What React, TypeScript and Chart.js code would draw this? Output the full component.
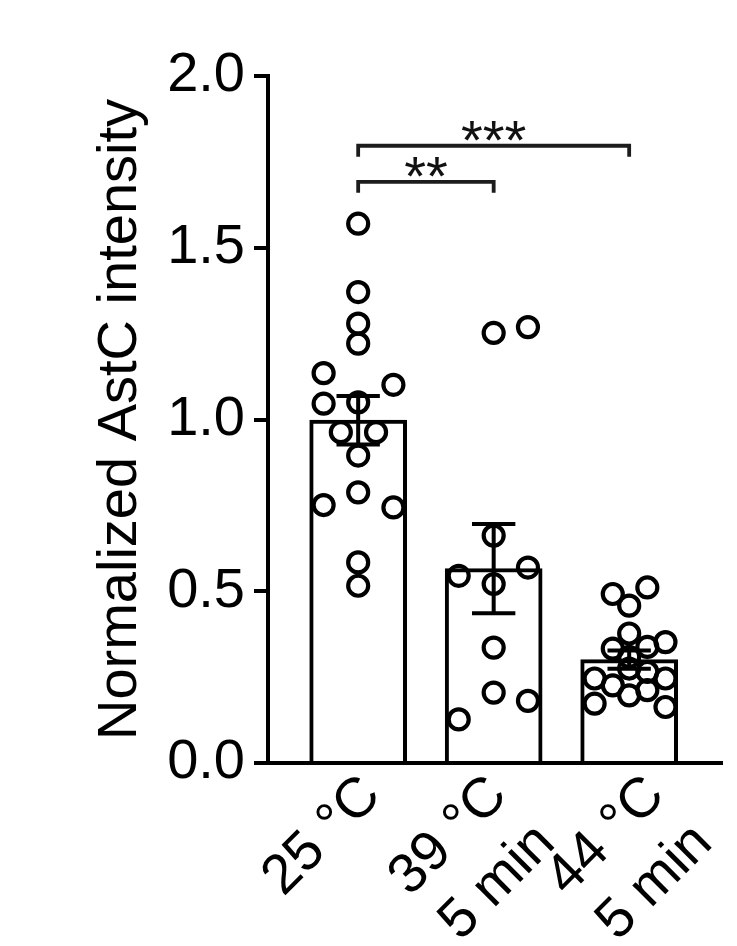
import React, { useEffect, useRef } from 'react';
import { Chart, registerables } from 'chart.js';

Chart.register(...registerables);

// ---- data ----
const categories: string[][] = [['25 °C'], ['39 °C', '5 min'], ['44 °C', '5 min']];
// where each category label sits along the x axis (group index + small shift)
const labelPositions = [0.102, 1.036, 2.197];
const barMeans = [0.998, 0.566, 0.301];
const semValues = [0.0705, 0.13, 0.0265];

const g1Values = [1.570, 1.371, 1.279, 1.221, 1.135, 1.101, 1.046, 1.050, 0.963, 0.963, 0.895, 0.788, 0.751, 0.744, 0.584, 0.516];
const g1Jitter = [0, 0, 0, 0, -0.255, 0.26, -0.255, 0, -0.128, 0.132, 0, 0, -0.255, 0.26, 0, 0];

const g2Values = [1.252, 1.269, 0.662, 0.545, 0.569, 0.521, 0.336, 0.205, 0.181, 0.127];
const g2Jitter = [0, 0.253, 0, -0.258, 0.253, 0, 0, 0, 0.253, -0.258];

const g3Values = [0.492, 0.511, 0.458, 0.377, 0.352, 0.333, 0.338, 0.309, 0.275, 0.265, 0.246, 0.246, 0.226, 0.212, 0.197, 0.173, 0.163];
const g3Jitter = [-0.121, 0.134, 0, 0, 0.268, -0.121, 0.134, 0, 0, 0.134, -0.255, 0.268, -0.121, 0.134, 0, -0.255, 0.268];

const yTicks = [0, 0.5, 1.0, 1.5, 2.0];

const bracketFrom = [0, 0];
const bracketTo = [1, 2];
const bracketY = [1.692, 1.797];
const bracketLabels = ['**', '***'];
const bracketDrop = 0.032;

const FONT = "'Liberation Sans', Arial, Helvetica, sans-serif";

export default function App() {
  const ref = useRef<HTMLCanvasElement>(null);

  useEffect(() => {
    if (!ref.current) return;
    const groups: [number[], number[]][] = [
      [g1Values, g1Jitter],
      [g2Values, g2Jitter],
      [g3Values, g3Jitter],
    ];

    const pointDatasets = groups.map(([vals, jit], gi) => ({
      type: 'scatter' as const,
      data: vals.map((v, k) => ({ x: gi + jit[k], y: v })),
      pointStyle: 'circle',
      pointRadius: 10,
      pointHoverRadius: 10,
      pointBorderWidth: 4.2,
      pointBorderColor: '#000',
      pointBackgroundColor: 'rgba(0,0,0,0)',
      showLine: false,
      order: 2,
      clip: false,
    }));

    const bracketDatasets = bracketY.map((y, b) => ({
      type: 'line' as const,
      data: [
        { x: bracketFrom[b], y: y - bracketDrop },
        { x: bracketFrom[b], y },
        { x: bracketTo[b], y },
        { x: bracketTo[b], y: y - bracketDrop },
      ],
      borderColor: '#1c1c1c',
      borderWidth: 3.8,
      pointRadius: 0,
      fill: false,
      tension: 0,
      order: 1,
      clip: false,
      borderJoinStyle: 'miter',
      borderCapStyle: 'butt',
    }));

    const barDataset = {
      type: 'bar' as const,
      data: barMeans.map((m, i) => ({ x: i, y: m })),
      backgroundColor: '#ffffff',
      borderColor: '#000000',
      borderWidth: 4,
      barThickness: 97,
      order: 3,
    };

    const extrasPlugin = {
      id: 'extras',
      afterDatasetsDraw(chart: any) {
        const { ctx } = chart;
        const xs = chart.scales.x;
        const ys = chart.scales.y;
        ctx.save();
        // error bars (mean ± SEM)
        ctx.strokeStyle = '#000';
        ctx.lineWidth = 4;
        ctx.lineCap = 'butt';
        barMeans.forEach((m, i) => {
          const x = xs.getPixelForValue(i);
          const yt = ys.getPixelForValue(m + semValues[i]);
          const yb = ys.getPixelForValue(m - semValues[i]);
          const xl = xs.getPixelForValue(i - 0.16);
          const xr = xs.getPixelForValue(i + 0.16);
          ctx.beginPath();
          ctx.moveTo(x, yt);
          ctx.lineTo(x, yb);
          ctx.moveTo(xl, yt);
          ctx.lineTo(xr, yt);
          ctx.moveTo(xl, yb);
          ctx.lineTo(xr, yb);
          ctx.stroke();
        });
        // significance stars
        ctx.fillStyle = '#111';
        ctx.font = `56px ${FONT}`;
        ctx.textAlign = 'center';
        ctx.textBaseline = 'alphabetic';
        bracketLabels.forEach((lab, b) => {
          const cx = (xs.getPixelForValue(bracketFrom[b]) + xs.getPixelForValue(bracketTo[b])) / 2;
          const cy = ys.getPixelForValue(bracketY[b]) - 15;
          const m = ctx.measureText(lab);
          const base = cy + (m.actualBoundingBoxAscent - m.actualBoundingBoxDescent) / 2;
          ctx.fillText(lab, cx, base);
        });
        ctx.restore();
      },
    };

    const chart = new Chart(ref.current, {
      type: 'bar',
      data: { datasets: [barDataset, ...pointDatasets, ...bracketDatasets] as any },
      options: {
        responsive: false,
        animation: false,
        devicePixelRatio: 1,
        layout: { padding: { left: 0, top: 76, right: 9, bottom: 0 } },
        plugins: { legend: { display: false }, tooltip: { enabled: false } },
        scales: {
          x: {
            type: 'linear',
            min: -0.6655,
            max: 2.691,
            offset: false,
            afterBuildTicks: (s: any) => {
              s.ticks = labelPositions.map((v) => ({ value: v }));
            },
            afterFit: (s: any) => {
              s.height = 183;
              s.paddingLeft = 0;
              s.paddingRight = 0;
            },
            grid: { display: false, drawTicks: false },
            border: { display: true, width: 4, color: '#000' },
            ticks: {
              autoSkip: false,
              maxRotation: 45,
              minRotation: 45,
              padding: 0,
              color: '#000',
              font: { family: FONT, size: 56 },
              callback: (_v: any, i: number) => categories[i] as any,
            },
          },
          y: {
            type: 'linear',
            min: 0,
            max: 2,
            afterBuildTicks: (s: any) => {
              s.ticks = yTicks.map((v) => ({ value: v }));
            },
            afterFit: (s: any) => {
              s.width = 268;
            },
            grid: {
              drawOnChartArea: false,
              drawTicks: true,
              tickLength: 14,
              tickWidth: 4,
              tickColor: '#000',
              lineWidth: 4,
              color: '#000',
            },
            border: { display: true, width: 4, color: '#000' },
            ticks: {
              padding: 9,
              color: '#000',
              font: { family: FONT, size: 56 },
              callback: (v: any) => Number(v).toFixed(1),
            },
            title: {
              display: true,
              text: 'Normalized AstC intensity',
              color: '#000',
              font: { family: FONT, size: 56 },
              padding: { top: 87, bottom: 0 },
            },
          },
        },
      } as any,
      plugins: [extrasPlugin],
    });

    return () => chart.destroy();
  }, []);

  return (
    <div style={{ position: 'absolute', left: 0, top: 0, width: 737, height: 946, background: '#fff' }}>
      <canvas ref={ref} width={737} height={946} style={{ width: 737, height: 946, display: 'block' }} />
    </div>
  );
}
